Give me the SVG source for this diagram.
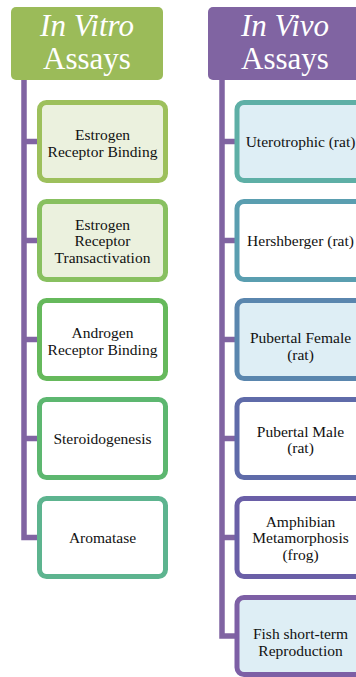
<svg xmlns="http://www.w3.org/2000/svg" width="356" height="677" viewBox="0 0 356 677">
<style>
.hdr{font-family:'Liberation Serif','Times New Roman',serif;font-size:31px;fill:#ffffff;text-anchor:middle}
.it{font-style:italic}
.box{stroke-width:5}
.lbl{font-family:'Liberation Serif','Times New Roman',serif;font-size:15.5px;fill:#111111;text-anchor:middle}
.conn{stroke:#8064A2;stroke-width:5.5;fill:none}
</style>
<rect width="356" height="677" fill="#ffffff"/>
<g id="connectors">
<path class="conn" d="M24 80 V537.5 H40 M24 141.5 H40 M24 240.5 H40 M24 339.5 H40 M24 438.5 H40"/>
<path class="conn" d="M222 80 V636 H237 M222 141.5 H237 M222 240.5 H237 M222 339.5 H237 M222 438.5 H237 M222 537.5 H237"/>
</g>
<g id="hdr-vitro">
<rect x="11" y="7" width="152" height="73" rx="5" fill="#9BBB59"/>
<text class="hdr it" x="87" y="36">In Vitro</text>
<text class="hdr" x="87" y="69">Assays</text>
</g>
<g id="hdr-vivo">
<rect x="208" y="7" width="152" height="73" rx="5" fill="#8064A2"/>
<text class="hdr it" x="285" y="36">In Vivo</text>
<text class="hdr" x="285" y="69">Assays</text>
</g>
<g id="v1">
<rect class="box" x="39.5" y="102.5" width="126" height="78" rx="7" fill="#EBF1DE" stroke="#9DC05C"/>
<text class="lbl" x="102.5" y="139.5">Estrogen</text>
<text class="lbl" x="102.5" y="156.5">Receptor Binding</text>
</g>
<g id="v2">
<rect class="box" x="39.5" y="201.5" width="126" height="78" rx="7" fill="#EBF1DE" stroke="#88C060"/>
<text class="lbl" x="102.5" y="229.5">Estrogen</text>
<text class="lbl" x="102.5" y="246">Receptor</text>
<text class="lbl" x="102.5" y="262.5">Transactivation</text>
</g>
<g id="v3">
<rect class="box" x="39.5" y="300.5" width="126" height="78" rx="7" fill="#ffffff" stroke="#66B95C"/>
<text class="lbl" x="102.5" y="337.5">Androgen</text>
<text class="lbl" x="102.5" y="354.5">Receptor Binding</text>
</g>
<g id="v4">
<rect class="box" x="39.5" y="399.5" width="126" height="78" rx="7" fill="#ffffff" stroke="#5DB770"/>
<text class="lbl" x="102.5" y="444">Steroidogenesis</text>
</g>
<g id="v5">
<rect class="box" x="39.5" y="498.5" width="126" height="78" rx="7" fill="#ffffff" stroke="#5DB48F"/>
<text class="lbl" x="102.5" y="543">Aromatase</text>
</g>
<g id="w1">
<rect class="box" x="237" y="102.5" width="127" height="78" rx="7" fill="#DEEEF5" stroke="#5EAFA6"/>
<text class="lbl" x="300.5" y="147">Uterotrophic (rat)</text>
</g>
<g id="w2">
<rect class="box" x="237" y="201.5" width="127" height="78" rx="7" fill="#ffffff" stroke="#5A9EB0"/>
<text class="lbl" x="300.5" y="246">Hershberger (rat)</text>
</g>
<g id="w3">
<rect class="box" x="237" y="300.5" width="127" height="78" rx="7" fill="#DEEEF5" stroke="#5A86AE"/>
<text class="lbl" x="300.5" y="343">Pubertal Female</text>
<text class="lbl" x="300.5" y="360">(rat)</text>
</g>
<g id="w4">
<rect class="box" x="237" y="399.5" width="127" height="78" rx="7" fill="#ffffff" stroke="#5F6BA9"/>
<text class="lbl" x="300.5" y="436.5">Pubertal Male</text>
<text class="lbl" x="300.5" y="453">(rat)</text>
</g>
<g id="w5">
<rect class="box" x="237" y="498.5" width="127" height="78" rx="7" fill="#ffffff" stroke="#6A5FA7"/>
<text class="lbl" x="300.5" y="526.5">Amphibian</text>
<text class="lbl" x="300.5" y="543">Metamorphosis</text>
<text class="lbl" x="300.5" y="559.5">(frog)</text>
</g>
<g id="w6">
<rect class="box" x="237" y="597.5" width="127" height="77" rx="7" fill="#DEEEF5" stroke="#7D5FA5"/>
<text class="lbl" x="300.5" y="639">Fish short-term</text>
<text class="lbl" x="300.5" y="656">Reproduction</text>
</g>
</svg>
